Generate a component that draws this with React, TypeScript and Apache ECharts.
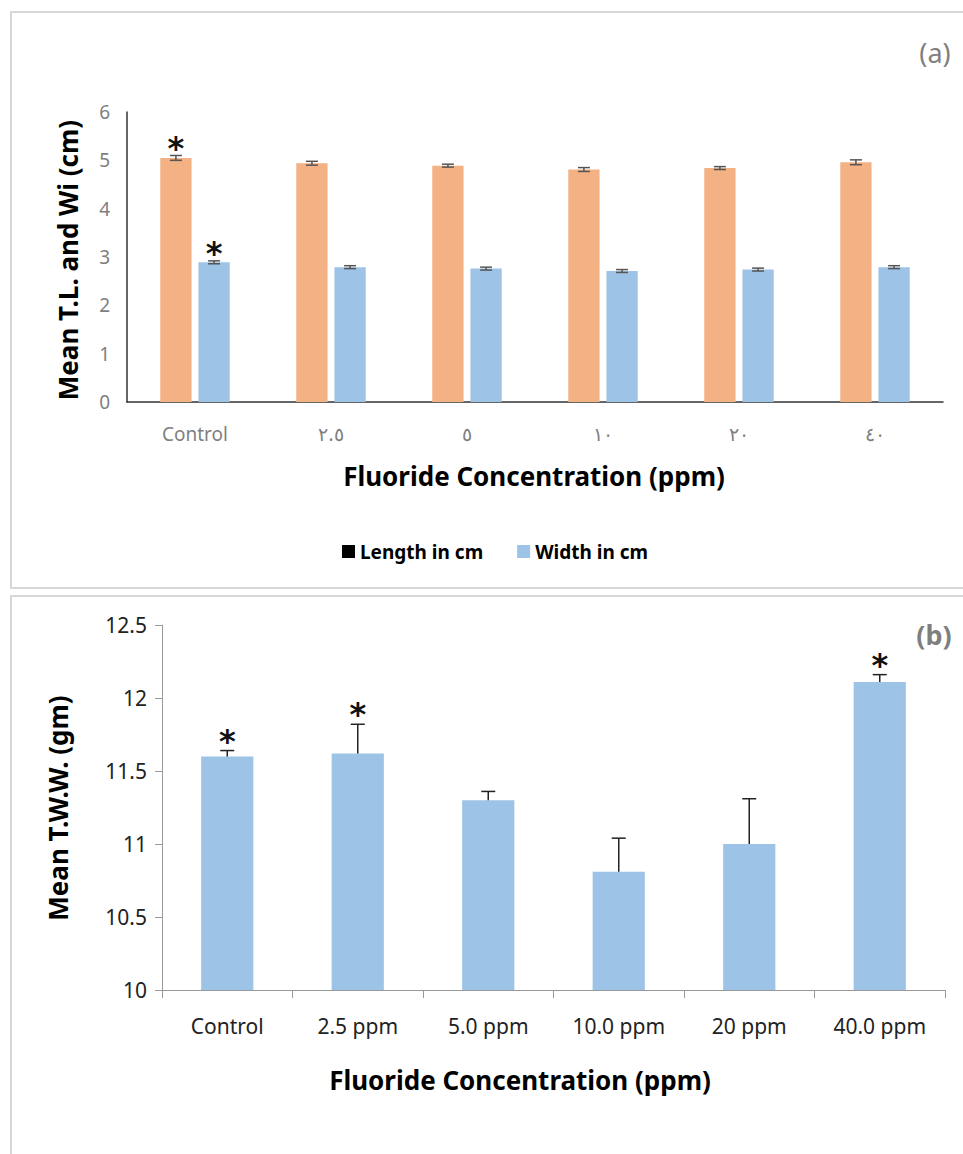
import React, { useEffect, useRef } from "react";
import * as echarts from "echarts";

// ---- Panel (a) data ----
const categoriesA = ["Control", "٢.٥", "٥", "١٠", "٢٠", "٤٠"];
const lengthMeans = [5.05, 4.94, 4.89, 4.81, 4.84, 4.96];
const lengthErr = [0.05, 0.04, 0.03, 0.04, 0.03, 0.05];
const lengthSig = [1, 0, 0, 0, 0, 0];
const widthMeans = [2.89, 2.79, 2.76, 2.71, 2.74, 2.79];
const widthErr = [0.03, 0.03, 0.03, 0.03, 0.03, 0.03];
const widthSig = [1, 0, 0, 0, 0, 0];
const yTicksA = { min: 0, max: 6, interval: 1 };

// ---- Panel (b) data ----
const categoriesB = ["Control", "2.5 ppm", "5.0 ppm", "10.0 ppm", "20 ppm", "40.0 ppm"];
const twwMeans = [11.6, 11.62, 11.3, 10.81, 11.0, 12.11];
const twwErr = [0.04, 0.2, 0.06, 0.23, 0.31, 0.05];
const twwSig = [1, 1, 0, 0, 0, 1];
const yTicksB = { min: 10, max: 12.5, interval: 0.5 };

const ORANGE = "#F4B183";
const BLUE = "#9DC3E6";
const FONT = "'Liberation Sans Narrow', 'Noto Sans', sans-serif";
const BOLD_FONT = "'Noto Sans', 'Open Sans', sans-serif";

const BAR_W_A = 0.23;
const BAR_GAP_A = 0.22;

function errRender(offsetFrac: number, capHalf: number, both: boolean, starGap: number, color: string) {
  return (params: any, api: any) => {
    const idx = api.value(0);
    const mean = api.value(1);
    const err = api.value(2);
    const sig = api.value(3);
    const band = api.size([1, 0])[0];
    const x = api.coord([idx, mean])[0] + band * offsetFrac;
    const yTop = api.coord([idx, mean + err])[1];
    const yBot = api.coord([idx, both ? mean - err : mean])[1];
    const st = { stroke: color, lineWidth: 1.5 };
    const children: any[] = [
      { type: "line", shape: { x1: x, y1: yTop, x2: x, y2: yBot }, style: st },
      { type: "line", shape: { x1: x - capHalf, y1: yTop, x2: x + capHalf, y2: yTop }, style: st },
    ];
    if (both) {
      children.push({ type: "line", shape: { x1: x - capHalf, y1: yBot, x2: x + capHalf, y2: yBot }, style: st });
    }
    if (sig) {
      children.push({
        type: "text",
        style: {
          text: "*",
          x: x,
          y: yTop - starGap,
          align: "center",
          verticalAlign: "middle",
          font: "bold 32px 'DejaVu Sans', sans-serif",
          fill: "#111",
        },
      });
    }
    return { type: "group", children };
  };
}

export default function App() {
  const ref = useRef<HTMLDivElement>(null);
  useEffect(() => {
    if (!ref.current) return;
    const chart = echarts.init(ref.current, null, { renderer: "svg" });
    const offA = (BAR_W_A * (1 + BAR_GAP_A)) / 2;
    const option: any = {
      animation: false,
      backgroundColor: "#fff",
      graphic: [
        { type: "rect", shape: { x: 11, y: 12, width: 970, height: 576 }, style: { fill: "none", stroke: "#d6d6d6", lineWidth: 2 }, silent: true },
        { type: "rect", shape: { x: 11, y: 596, width: 970, height: 600 }, style: { fill: "none", stroke: "#d6d6d6", lineWidth: 2 }, silent: true },
        { type: "text", x: 935, y: 52, style: { text: "(a)", align: "center", verticalAlign: "middle", font: "27px " + FONT, fill: "#7f7f7f" } },
        { type: "text", x: 934, y: 634, style: { text: "(b)", align: "center", verticalAlign: "middle", font: "bold 27px " + FONT, fill: "#7f7f7f" } },
        { type: "text", x: 68, y: 260, rotation: Math.PI / 2, style: { text: "Mean T.L. and Wi (cm)", align: "center", verticalAlign: "middle", font: "bold 26px " + BOLD_FONT, fill: "#000" } },
        { type: "text", x: 534, y: 476, style: { text: "Fluoride Concentration (ppm)", align: "center", verticalAlign: "middle", font: "bold 26px " + BOLD_FONT, fill: "#000" } },
        { type: "text", x: 58, y: 808, rotation: Math.PI / 2, style: { text: "Mean T.W.W. (gm)", align: "center", verticalAlign: "middle", font: "bold 26px " + BOLD_FONT, fill: "#000" } },
        { type: "text", x: 520, y: 1080, style: { text: "Fluoride Concentration (ppm)", align: "center", verticalAlign: "middle", font: "bold 26px " + BOLD_FONT, fill: "#000" } },
      ],
      legend: {
        top: 537,
        left: 337,
        itemWidth: 13,
        itemHeight: 13,
        itemGap: 34,
        icon: "rect",
        textStyle: { fontFamily: BOLD_FONT, fontWeight: "bold", fontSize: 19, color: "#000" },
        data: [
          { name: "Length in cm", itemStyle: { color: "#000" } },
          { name: "Width in cm" },
        ],
      },
      grid: [
        { left: 127, top: 112, width: 816, height: 290, containLabel: false },
        { left: 162, top: 625, width: 783, height: 365, containLabel: false },
      ],
      xAxis: [
        {
          type: "category",
          gridIndex: 0,
          data: categoriesA,
          axisLine: { lineStyle: { color: "#333", width: 1.5 } },
          axisTick: { show: false },
          axisLabel: { color: "#7f7f7f", fontSize: 19, fontFamily: FONT, margin: 22 },
        },
        {
          type: "category",
          gridIndex: 1,
          data: categoriesB,
          axisLine: { lineStyle: { color: "#999", width: 1 } },
          axisTick: { show: true, length: 8, lineStyle: { color: "#999" } },
          axisLabel: { color: "#222", fontSize: 21, fontFamily: FONT, margin: 25 },
        },
      ],
      yAxis: [
        {
          type: "value",
          gridIndex: 0,
          ...yTicksA,
          splitLine: { show: false },
          axisLine: { show: true, lineStyle: { color: "#333", width: 1.5 } },
          axisTick: { show: false },
          axisLabel: { color: "#7f7f7f", fontSize: 19, fontFamily: FONT, margin: 17 },
        },
        {
          type: "value",
          gridIndex: 1,
          ...yTicksB,
          splitLine: { show: false },
          axisLine: { show: true, lineStyle: { color: "#999", width: 1 } },
          axisTick: { show: true, length: 7, lineStyle: { color: "#999" } },
          axisLabel: { color: "#222", fontSize: 21, fontFamily: FONT, margin: 15 },
        },
      ],
      series: [
        {
          name: "Length in cm",
          type: "bar",
          xAxisIndex: 0,
          yAxisIndex: 0,
          data: lengthMeans,
          barWidth: BAR_W_A * 100 + "%",
          barGap: BAR_GAP_A * 100 + "%",
          itemStyle: { color: ORANGE },
        },
        {
          name: "Width in cm",
          type: "bar",
          xAxisIndex: 0,
          yAxisIndex: 0,
          data: widthMeans,
          barWidth: BAR_W_A * 100 + "%",
          barGap: BAR_GAP_A * 100 + "%",
          itemStyle: { color: BLUE },
        },
        {
          name: "errL",
          type: "custom",
          xAxisIndex: 0,
          yAxisIndex: 0,
          z: 10,
          clip: false,
          renderItem: errRender(-offA, 6, true, 8, "#555"),
          encode: { x: 0, y: 1 },
          data: lengthMeans.map((m, i) => [i, m, lengthErr[i], lengthSig[i]]),
        },
        {
          name: "errW",
          type: "custom",
          xAxisIndex: 0,
          yAxisIndex: 0,
          z: 10,
          clip: false,
          renderItem: errRender(offA, 6, true, 8, "#555"),
          encode: { x: 0, y: 1 },
          data: widthMeans.map((m, i) => [i, m, widthErr[i], widthSig[i]]),
        },
        {
          name: "T.W.W.",
          type: "bar",
          xAxisIndex: 1,
          yAxisIndex: 1,
          data: twwMeans,
          barWidth: "40%",
          itemStyle: { color: BLUE },
        },
        {
          name: "errB",
          type: "custom",
          xAxisIndex: 1,
          yAxisIndex: 1,
          z: 10,
          clip: false,
          renderItem: errRender(0, 7, false, 10, "#222"),
          encode: { x: 0, y: 1 },
          data: twwMeans.map((m, i) => [i, m, twwErr[i], twwSig[i]]),
        },
      ],
    };
    chart.setOption(option);
    return () => chart.dispose();
  }, []);
  return (
    <div
      ref={ref}
      style={{ position: "absolute", left: 0, top: 0, width: 963, height: 1154 }}
    />
  );
}
